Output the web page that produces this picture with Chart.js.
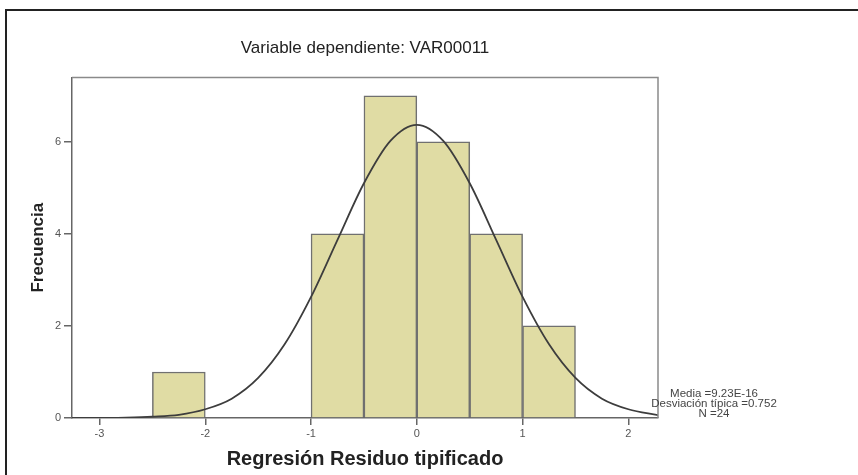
<!DOCTYPE html>
<html>
<head>
<meta charset="utf-8">
<script src="https://cdn.jsdelivr.net/npm/chart.js@4"></script>
<style>
  html, body { margin: 0; padding: 0; background: #fff; }
  #wrap { width: 858px; height: 475px; position: relative; }
</style>
</head>
<body>
<div id="wrap"><canvas id="chart" width="858" height="475"></canvas></div>
<script>
// histograma: centro de cada intervalo (ancho 0.5) y frecuencia
const binCenters = [-2.25, -0.75, -0.25, 0.25, 0.75, 1.25];
const frequencies = [1, 4, 7, 6, 4, 2];

// curva normal
const curveX = [-3.26, -3, -2.75, -2.5, -2.25, -2, -1.75, -1.5, -1.25, -1, -0.75, -0.5, -0.25, 0,
  0.25, 0.5, 0.75, 1, 1.25, 1.5, 1.75, 2, 2.28];
const curveY = [0, 0, 0.01, 0.03, 0.07, 0.19, 0.42, 0.87, 1.6, 2.63, 3.87, 5.1, 6.02, 6.37,
  6.02, 5.1, 3.87, 2.63, 1.6, 0.87, 0.42, 0.19, 0.06];

const chartTitle = 'Variable dependiente: VAR00011';
const xTitle = 'Regresión Residuo tipificado';
const yTitle = 'Frecuencia';
const statsLines = ['Media =9.23E-16', 'Desviación típica =0.752', 'N =24'];

//marco exterior, borde del grafico y estadisticos
const extras = {
  id: 'extras',
  afterDraw(chart) {
    const ctx = chart.ctx;
    const a = chart.chartArea;
    ctx.save();
    ctx.strokeStyle = '#222';
    ctx.lineWidth = 2;
    ctx.beginPath();
    ctx.moveTo(6, 475);
    ctx.lineTo(6, 10);
    ctx.lineTo(858, 10);
    ctx.stroke();

    ctx.strokeStyle = '#8a8a8a';
    ctx.lineWidth = 1.5;
    ctx.beginPath();
    ctx.moveTo(a.left, a.top);
    ctx.lineTo(a.right, a.top);
    ctx.lineTo(a.right, a.bottom);
    ctx.stroke();

    ctx.fillStyle = '#444';
    ctx.font = '11.5px "Liberation Sans", Arial, sans-serif';
    ctx.textAlign = 'center';
    ctx.textBaseline = 'middle';
    statsLines.forEach((line, i) => {
      ctx.fillText(line, 714, 394 + i * 10);
    });
    ctx.restore();
  }
};

const data = {
  datasets: [
    {
      type: 'line',
      data: curveX.map((x, i) => ({ x: x, y: curveY[i] })),
      borderColor: '#3d3d3d',
      borderWidth: 1.8,
      pointRadius: 0,
      cubicInterpolationMode: 'monotone',
      fill: false,
      order: 0
    },
    {
      type: 'bar',
      data: binCenters.map((x, i) => ({ x: x, y: frequencies[i] })),
      backgroundColor: '#e0dca4',
      borderColor: '#707070',
      borderWidth: 1.5,
      barPercentage: 1,
      categoryPercentage: 1,
      order: 1
    }
  ]
};

const tickFont = { family: '"Liberation Sans", Arial, sans-serif', size: 11 };

const config = {
  type: 'bar',
  data: data,
  plugins: [extras],
  options: {
    responsive: false,
    animation: false,
    layout: { padding: { left: 0, right: 200, top: 0, bottom: 0 } },
    plugins: {
      legend: { display: false },
      tooltip: { enabled: false },
      title: {
        display: true,
        text: chartTitle,
        fullSize: false,
        color: '#222',
        font: { family: '"Liberation Sans", Arial, sans-serif', size: 17, weight: 'normal' },
        padding: { top: 38, bottom: 19 }
      }
    },
    scales: {
      x: {
        type: 'linear',
        min: -3.26,
        max: 2.28,
        offset: false,
        afterFit: (scale) => { scale.height = 57; },
        ticks: { stepSize: 1, includeBounds: false, color: '#555', font: tickFont, padding: 2 },
        grid: { offset: false, drawOnChartArea: false, drawTicks: true, tickLength: 7, color: '#666', lineWidth: 1.5 },
        border: { display: true, color: '#666', width: 1.5 },
        title: {
          display: true,
          text: xTitle,
          color: '#222',
          font: { family: '"Liberation Sans", Arial, sans-serif', size: 20, weight: 'bold' },
          padding: { top: 0, bottom: 4 }
        }
      },
      y: {
        min: 0,
        max: 7.4,
        afterFit: (scale) => { scale.width = 72; },
        ticks: { stepSize: 2, includeBounds: false, color: '#555', font: tickFont, padding: 3 },
        grid: { drawOnChartArea: false, drawTicks: true, tickLength: 8, color: '#666', lineWidth: 1.5 },
        border: { display: true, color: '#666', width: 1.5 },
        title: {
          display: true,
          text: yTitle,
          color: '#222',
          font: { family: '"Liberation Sans Narrow", "Liberation Sans", Arial, sans-serif', size: 17, weight: 'bold' },
          padding: { top: 28, bottom: 0 }
        }
      }
    }
  }
};

new Chart(document.querySelector('#chart'), config);
</script>
</body>
</html>
